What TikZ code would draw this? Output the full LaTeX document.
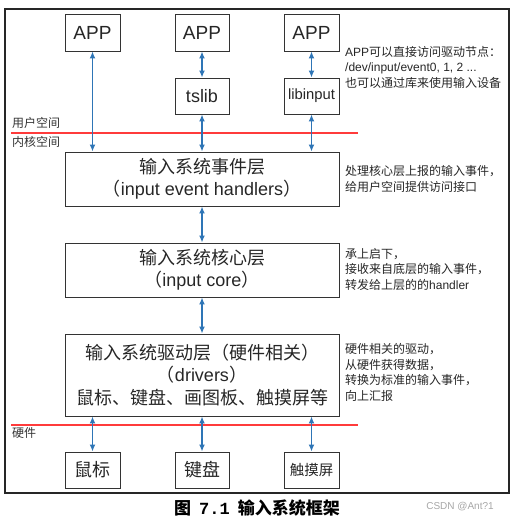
\documentclass[tikz,border=0pt]{standalone}
\usepackage{fontspec}
\setmainfont{Liberation Sans}
\newfontfamily\cjk{Noto Sans CJK SC}
\newfontfamily\lmono{Liberation Mono}
\usetikzlibrary{arrows.meta}
\definecolor{arrblue}{HTML}{2E75B6}
\definecolor{redl}{HTML}{FF3B3B}
\newcommand\zh[1]{{\cjk #1}}
\begin{document}
\begin{tikzpicture}[x=1pt,y=-1pt,
  box/.style={draw=black!80, line width=0.9pt, inner sep=0pt, align=center, text=black!85},
  arr/.style={draw=arrblue, line width=1.8pt, {Latex[length=7pt,width=6pt]}-{Latex[length=7pt,width=6pt]}},
  side/.style={font=\fontsize{12}{15.7}\selectfont, inner sep=0pt, align=left, text=black!85, anchor=north west},
  lbl/.style={font=\fontsize{12}{14}\selectfont, inner sep=0pt, text=black!80, anchor=west},
  redline/.style={draw=redl, line width=1.8pt},
  big/.style={font=\fontsize{18}{22.5}\selectfont}]
\useasboundingbox (0,0) rectangle (510,521);
\draw[line width=1.3pt, draw=black!85] (5,9) rectangle (509,493);
% top row
\node[box, minimum width=55, minimum height=37, font=\fontsize{19}{22}\selectfont] (app1) at (92.5,32.5) {APP};
\node[box, minimum width=54, minimum height=37, font=\fontsize{19}{22}\selectfont] (app2) at (202,32.5) {APP};
\node[box, minimum width=55, minimum height=37, font=\fontsize{19}{22}\selectfont] (app3) at (311.5,32.5) {APP};
\node[box, minimum width=54, minimum height=36, font=\fontsize{18}{22}\selectfont] (tslib) at (202,96) {tslib};
\node[box, minimum width=55, minimum height=36, font=\fontsize{14.8}{18}\selectfont] (libin) at (311.5,96) {libinput};
% layers
\node[box, big, minimum width=274, minimum height=54] (ev) at (202,179) {\zh{输入系统事件层}\\\zh{（}input event handlers\zh{）}};
\node[box, big, minimum width=274, minimum height=54] (core) at (202,270) {\zh{输入系统核心层}\\\zh{（}input core\zh{）}};
\node[box, big, minimum width=274, minimum height=82] (drv) at (202,375) {\zh{输入系统驱动层（硬件相关）}\\\zh{（}drivers\zh{）}\\\zh{鼠标、键盘、画图板、触摸屏等}};
% bottom row
\node[box, big, minimum width=55, minimum height=36] (m1) at (92.5,470) {\zh{鼠标}};
\node[box, big, minimum width=54, minimum height=36] (m2) at (202,470) {\zh{键盘}};
\node[box, minimum width=55, minimum height=36, font=\fontsize{14.5}{18}\selectfont] (m3) at (311.5,470) {\zh{触摸屏}};
% red lines
\coordinate (r1a) at (11,133); \coordinate (r1b) at (358,133);
\coordinate (r2a) at (11,425); \coordinate (r2b) at (358,425);
\draw[redline] (r1a) -- (r1b);
\draw[redline] (r2a) -- (r2b);
\node[lbl] (us) at (12,123) {\zh{用户空间}};
\node[lbl] (ks) at (12,142) {\zh{内核空间}};
\node[lbl] (hw) at (12,433) {\zh{硬件}};
% arrows
\draw[arr] (app1.south) -- (app1.south |- ev.north);
\draw[arr] (app2.south) -- (tslib.north);
\draw[arr] (tslib.south) -- (tslib.south |- ev.north);
\draw[arr] (app3.south) -- (libin.north);
\draw[arr] (libin.south) -- (libin.south |- ev.north);
\draw[arr] (ev.south) -- (core.north);
\draw[arr] (core.south) -- (drv.north);
\draw[arr] (m1.north) -- (m1.north |- drv.south);
\draw[arr] (m2.north) -- (m2.north |- drv.south);
\draw[arr] (m3.north) -- (m3.north |- drv.south);
% side notes
\node[side] (n1) at (345,46) {APP\zh{可以直接访问驱动节点：}\\/dev/input/event0, 1, 2 ...\\\zh{也可以通过库来使用输入设备}};
\node[side] (n2) at (345,165) {\zh{处理核心层上报的输入事件，}\\\zh{给用户空间提供访问接口}};
\node[side] (n3) at (345,248) {\zh{承上启下，}\\\zh{接收来自底层的输入事件，}\\\zh{转发给上层的的}handler};
\node[side] (n4) at (345,343) {\zh{硬件相关的驱动，}\\\zh{从硬件获得数据，}\\\zh{转换为标准的输入事件，}\\\zh{向上汇报}};
% caption
\node[inner sep=0pt, font=\fontsize{17}{20}\selectfont] (cap) at (257,508) {{\cjk\bfseries 图}\hspace{8pt}{\lmono\bfseries 7.1}\hspace{8pt}{\cjk\bfseries 输入系统框架}};
\node[inner sep=0pt, text=black!35, font=\fontsize{10}{12}\selectfont] (wm) at (460,507) {CSDN @Ant?1};
\end{tikzpicture}
\end{document}
